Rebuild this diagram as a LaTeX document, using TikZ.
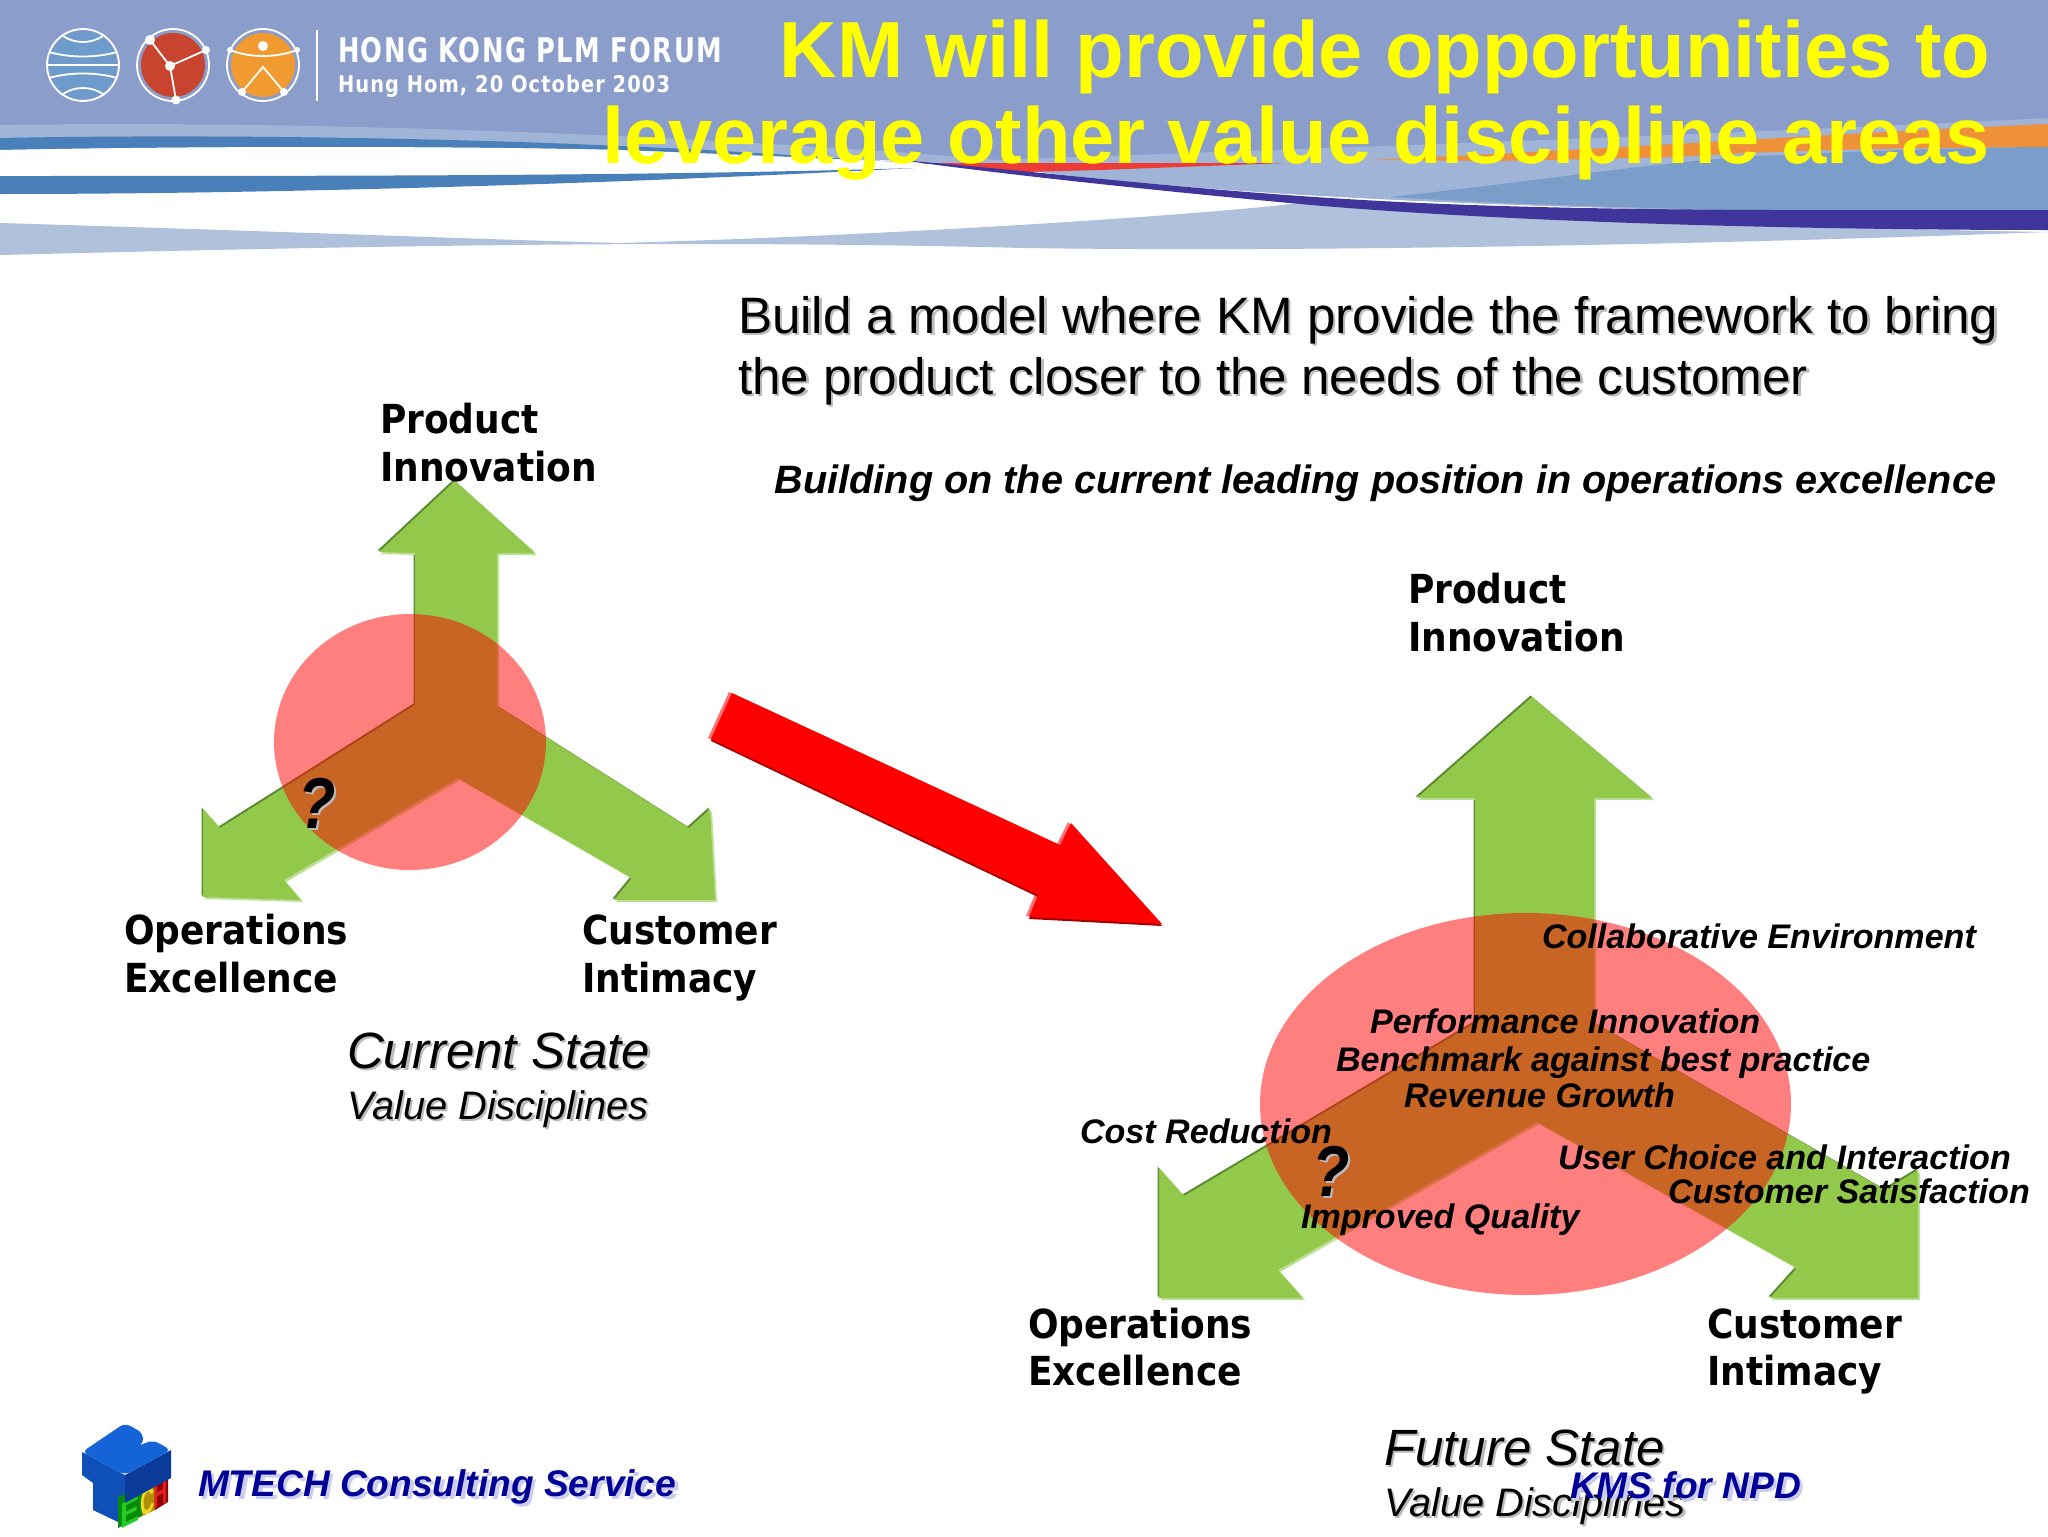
\documentclass[tikz,border=0pt]{standalone}
\usepackage{fontspec}
\usepackage{graphicx}
\setmainfont{Liberation Sans}
\newfontfamily\versf{DejaVu Sans Condensed}
\newfontfamily\spacedf[LetterSpace=5]{DejaVu Sans Condensed}
\definecolor{bandc}{HTML}{8A9DCB}
\definecolor{lightband}{HTML}{9FB4D6}
\definecolor{stripc}{HTML}{4A80BA}
\definecolor{midblue}{HTML}{7A9DC9}
\definecolor{lowband}{HTML}{B0C1DC}
\definecolor{purplec}{HTML}{40359A}
\definecolor{orangec}{HTML}{EE9139}
\definecolor{wedgec}{HTML}{EE3B35}
\definecolor{greenc}{HTML}{92C94A}
\definecolor{greendk}{HTML}{5C8A30}
\definecolor{greenlt}{HTML}{BBDF94}
\definecolor{footc}{HTML}{000099}
\definecolor{footsh}{HTML}{CCCCEE}
\definecolor{titlec}{HTML}{FFFF00}
\definecolor{globec}{HTML}{6E9BCB}
\definecolor{redlogo}{HTML}{C8442E}
\definecolor{orlogo}{HTML}{F09A30}
\definecolor{shgray}{HTML}{BBBBBB}
\definecolor{redlt}{HTML}{FF7070}
\definecolor{reddk}{HTML}{A00000}
\definecolor{tface}{HTML}{1464D8}
\definecolor{tfront}{HTML}{0F50B8}
\definecolor{tside}{HTML}{0A3A9A}
\definecolor{egreen}{HTML}{22CC22}
\definecolor{cyellow}{HTML}{F0D820}
\definecolor{hred}{HTML}{E02020}
\definecolor{egreendk}{HTML}{0A8A0A}
\definecolor{cyellowdk}{HTML}{B09000}
\definecolor{hreddk}{HTML}{900000}
\newcommand\sdw[2]{\rlap{\kern1.2pt\raisebox{-1.2pt}{\textcolor{#1}{#2}}}#2}
\newcommand\fsdw[2]{\rlap{\kern1.8pt\raisebox{-1.8pt}{\textcolor{#1}{#2}}}#2}
\newcommand\fsz[1]{\fontsize{#1}{#1}\selectfont}
\def\polyL{(455,481)--(535,553)--(497,553)--(497,706)--(689,828)--(710,809)--(715,900)--(614,900)--(632,878)--(458,778)--(284,880)--(301,900)--(203,897)--(203,809)--(220,828)--(415,705)--(415,553)--(379,552)--cycle}
\def\polyR{(1532,697)--(1652,798)--(1594,798)--(1594,1023)--(1885,1190)--(1918,1170)--(1918,1298)--(1770,1298)--(1797,1268)--(1537,1122)--(1278,1270)--(1303,1298)--(1159,1298)--(1159,1168)--(1184,1196)--(1475,1023)--(1475,798)--(1417,798)--cycle}
\def\polyRed{(732,693)--(1060,845)--(1071,823)--(1162,924)--(1029,917)--(1038,895)--(711,739)--cycle}
\tikzset{
  txt/.style={inner sep=0pt,outer sep=0pt,anchor=base west,align=left},
  txtr/.style={inner sep=0pt,outer sep=0pt,anchor=base east},
  titletxt/.style={txtr,text=titlec,font=\fsz{39.75}\bfseries},
  vlabel/.style={txt,font=\versf\fsz{20}\bfseries},
  bilabel/.style={txt,font=\fsz{17.05}\bfseries\itshape},
  qmark/.style={txt,font=\fsz{36}\bfseries\itshape},
  statetxt/.style={txt,font=\fsz{25.5}\itshape},
  valtxt/.style={txt,font=\fsz{19.9}\itshape},
  foottxt/.style={txt,text=footc,font=\fsz{18.55}\bfseries\itshape},
  redblob/.style={fill=red,fill opacity=.5},
  logoline/.style={draw=white,line width=.9pt},
  logodot/.style={fill=white},
  ltr/.style={inner sep=0pt,outer sep=0pt,transform shape,yslant=.5,font=\fsz{18}\bfseries}
}
\begin{document}
\begin{tikzpicture}[x=0.5pt,y=-0.5pt]
\useasboundingbox (0,0) rectangle (2048,1536);
\fill[white] (0,0) rectangle (2048,1536);
% header band
\fill[bandc] (0,0)--(2048,0)--(2048,215) .. controls (1700,212) and (1300,205) .. (1024,170) .. controls (900,155) and (600,150) .. (0,150)--cycle;
\fill[lightband] (0,125) .. controls (300,120) and (700,135) .. (1000,160) .. controls (1250,150) and (1600,140) .. (2048,118)--(2048,215) .. controls (1700,212) and (1300,205) .. (1024,170) .. controls (900,155) and (600,150) .. (0,150)--cycle;
\fill[midblue] (1390,197) .. controls (1550,180) and (1680,158) .. (1782,155) .. controls (1880,150) and (2000,147) .. (2048,147)--(2048,215) .. controls (1850,212) and (1600,210) .. (1390,197)--cycle;
\fill[orangec] (1370,160) .. controls (1600,150) and (1800,135) .. (2048,124)--(2048,147) .. controls (1900,148) and (1780,150) .. (1677,157) -- (1500,161) --cycle;
\fill[wedgec] (915,163)--(1285,163)--(1100,170)--(1024,172)--cycle;
\fill[stripc] (0,138) .. controls (200,134) and (450,138) .. (620,146) .. controls (720,150) and (820,157) .. (915,163) .. controls (820,158) and (720,154) .. (620,150) .. controls (450,146) and (200,146) .. (0,150)--cycle;
\fill[white] (0,150) .. controls (200,146) and (450,146) .. (620,150) .. controls (720,154) and (820,158) .. (915,163) .. controls (1000,168) and (1100,182) .. (1300,204) -- (1024,216) .. controls (800,240) and (400,240) .. (0,222)--cycle;
\fill[stripc] (0,176) .. controls (350,176) and (650,176) .. (915,168) .. controls (650,182) and (300,194) .. (0,194)--cycle;
\fill[lowband] (0,223) .. controls (300,232) and (500,240) .. (620,243) .. controls (900,235) and (1200,215) .. (1300,203) .. controls (1500,215) and (1800,228) .. (2048,232) .. controls (1700,245) and (1300,252) .. (1024,248) .. controls (700,240) and (400,245) .. (0,255)--cycle;
\fill[purplec] (900,160) .. controls (1050,172) and (1200,192) .. (1400,202) .. controls (1600,212) and (1850,210) .. (2048,210)--(2048,230) .. controls (1800,230) and (1500,222) .. (1300,204) .. controls (1150,190) and (1000,174) .. (900,160)--cycle;
% logo 1: globe
\begin{scope}
\fill[globec] (83,65) circle (34);
\draw[logoline] (83,65) circle (36);
\clip (83,65) circle (36);
\draw[logoline] (47,65)--(119,65);
\draw[logoline] (63,36) .. controls (75,44) and (91,44) .. (103,36);
\draw[logoline] (49,52) .. controls (70,58) and (96,58) .. (117,52);
\draw[logoline] (49,78) .. controls (70,72) and (96,72) .. (117,78);
\draw[logoline] (63,94) .. controls (75,86) and (91,86) .. (103,94);
\end{scope}
% logo 2
\fill[redlogo] (173,65) circle (32);
\draw[logoline] (173,65) circle (36);
\draw[logoline] (150,40)--(170,66)--(206,50) (170,66)--(176,100);
\fill[logodot] (150,40) circle (5) (206,50) circle (4) (170,66) circle (5) (176,100) circle (4.5);
% logo 3
\fill[orlogo] (263,65) circle (32);
\draw[logoline] (263,65) circle (36);
\draw[logoline] (230,50) .. controls (250,58) and (276,58) .. (297,50);
\draw[logoline] (242,92)--(263,67)--(284,92);
\fill[logodot] (263,46) circle (5) (242,92) circle (4) (284,92) circle (4) (230,50) circle (3) (297,50) circle (3);
\draw[white,line width=.9pt] (317,30)--(317,101);
\node[txt,text=white,font=\spacedf\fsz{17}\bfseries] (forum) at (338,63) {\resizebox{192pt}{\height}{HONG KONG PLM FORUM}};
\node[txt,text=white,font=\spacedf\fsz{11.5}\bfseries] (place) at (338,92) {\resizebox{166pt}{\height}{Hung Hom, 20 October 2003}};
% title
\node[titletxt] (t1) at (1990,78) {KM will provide opportunities to};
\node[titletxt] (t2) at (1990,163) {leverage other value discipline areas};
% intro
\node[txt,font=\fsz{25.6}] (b1) at (738,333) {\sdw{shgray}{Build a model where KM provide the framework to bring}};
\node[txt,font=\fsz{25.6}] (b2) at (738,394) {\sdw{shgray}{the product closer to the needs of the customer}};
\node[txtr,font=\fsz{19.8}\bfseries\itshape] (b3) at (1996,493) {Building on the current leading position in operations excellence};
% left arrow set
\fill[greendk] [shift={(-1.5,-1.5)}] \polyL;
\fill[greenlt] [shift={(2,2)}] \polyL;
\fill[greenc] \polyL;
\fill[redblob] (410,742) ellipse (136 and 128);
% right arrow set
\fill[greendk] [shift={(-1.5,-1.5)}] \polyR;
\fill[greenlt] [shift={(2,2)}] \polyR;
\fill[greenc] \polyR;
\fill[redblob] (1525.5,1104) ellipse (265.5 and 191);
% red arrow
\fill[redlt] [shift={(-3,-1)}] \polyRed;
\fill[reddk] [shift={(0,2)}] \polyRed;
\fill[red] \polyRed;
% labels left
\node[vlabel] (pi1) at (380,433) {Product};
\node[vlabel] (pi2) at (380,481) {Innovation};
\node[vlabel] (oe1) at (124,944) {Operations};
\node[vlabel] (oe2) at (124,992) {Excellence};
\node[vlabel] (ci1) at (582,944) {Customer};
\node[vlabel] (ci2) at (582,992) {Intimacy};
\node[qmark] (q1) at (298,828) {\sdw{shgray}{\scalebox{.85}[1]{?}}};
\node[statetxt] (cs) at (347,1068) {\sdw{shgray}{Current State}};
\node[valtxt] (vd1) at (347,1119) {\sdw{shgray}{Value Disciplines}};
% labels right
\node[vlabel] (pi3) at (1408,603) {Product};
\node[vlabel] (pi4) at (1408,651) {Innovation};
\node[vlabel] (oe3) at (1028,1338) {Operations};
\node[vlabel] (oe4) at (1028,1385) {Excellence};
\node[vlabel] (ci3) at (1707,1338) {Customer};
\node[vlabel] (ci4) at (1707,1385) {Intimacy};
\node[bilabel] (l1) at (1542,948) {Collaborative Environment};
\node[bilabel] (l2) at (1370,1033) {Performance Innovation};
\node[bilabel] (l3) at (1336,1071) {Benchmark against best practice};
\node[bilabel] (l4) at (1404,1107) {Revenue Growth};
\node[bilabel] (l5) at (1080,1143) {Cost Reduction};
\node[bilabel] (l6) at (1558,1169) {User Choice and Interaction};
\node[bilabel] (l7) at (1668,1203) {Customer Satisfaction};
\node[bilabel] (l8) at (1301,1228) {Improved Quality};
\node[qmark] (q2) at (1312,1196) {\sdw{shgray}{\scalebox{.85}[1]{?}}};
\node[statetxt] (fs) at (1384,1465) {\sdw{shgray}{Future State}};
\node[valtxt] (vd2) at (1384,1516) {\sdw{shgray}{Value Disciplines}};
% footer
\node[foottxt] (f2) at (1570,1498) {\fsdw{footsh}{KMS for NPD}};
\node[foottxt] (f1) at (198,1496) {\fsdw{footsh}{MTECH Consulting Service}};
% MTECH logo
\fill[tfront] (82,1452)--(125,1475)--(125,1503)--(118,1498)--(118,1522)--(93,1510)--(93,1483)--(82,1475)--cycle;
\fill[egreendk] (118,1497)--(142,1486)--(142,1516)--(118,1528)--cycle;
\fill[cyellowdk] (142,1486)--(155,1480)--(155,1510)--(142,1516)--cycle;
\fill[hreddk] (155,1480)--(168,1472)--(168,1502)--(155,1510)--cycle;
\node[ltr,text=egreen] (le) at (130,1512) {\scalebox{.8}[1]{E}};
\node[ltr,text=cyellow] (lc) at (148,1502) {\scalebox{.55}[1]{C}};
\node[ltr,text=hred] (lh) at (161,1494) {\scalebox{.55}[1]{H}};
\fill[tside] (125,1475)--(171,1450)--(171,1478)--(125,1503)--cycle;
\fill[tface,rounded corners=3pt] (82,1452)--(125,1423)--(143,1433)--(143,1445)--(128,1450)--(153,1440)--(171,1450)--(125,1475)--cycle;
\end{tikzpicture}
\end{document}
